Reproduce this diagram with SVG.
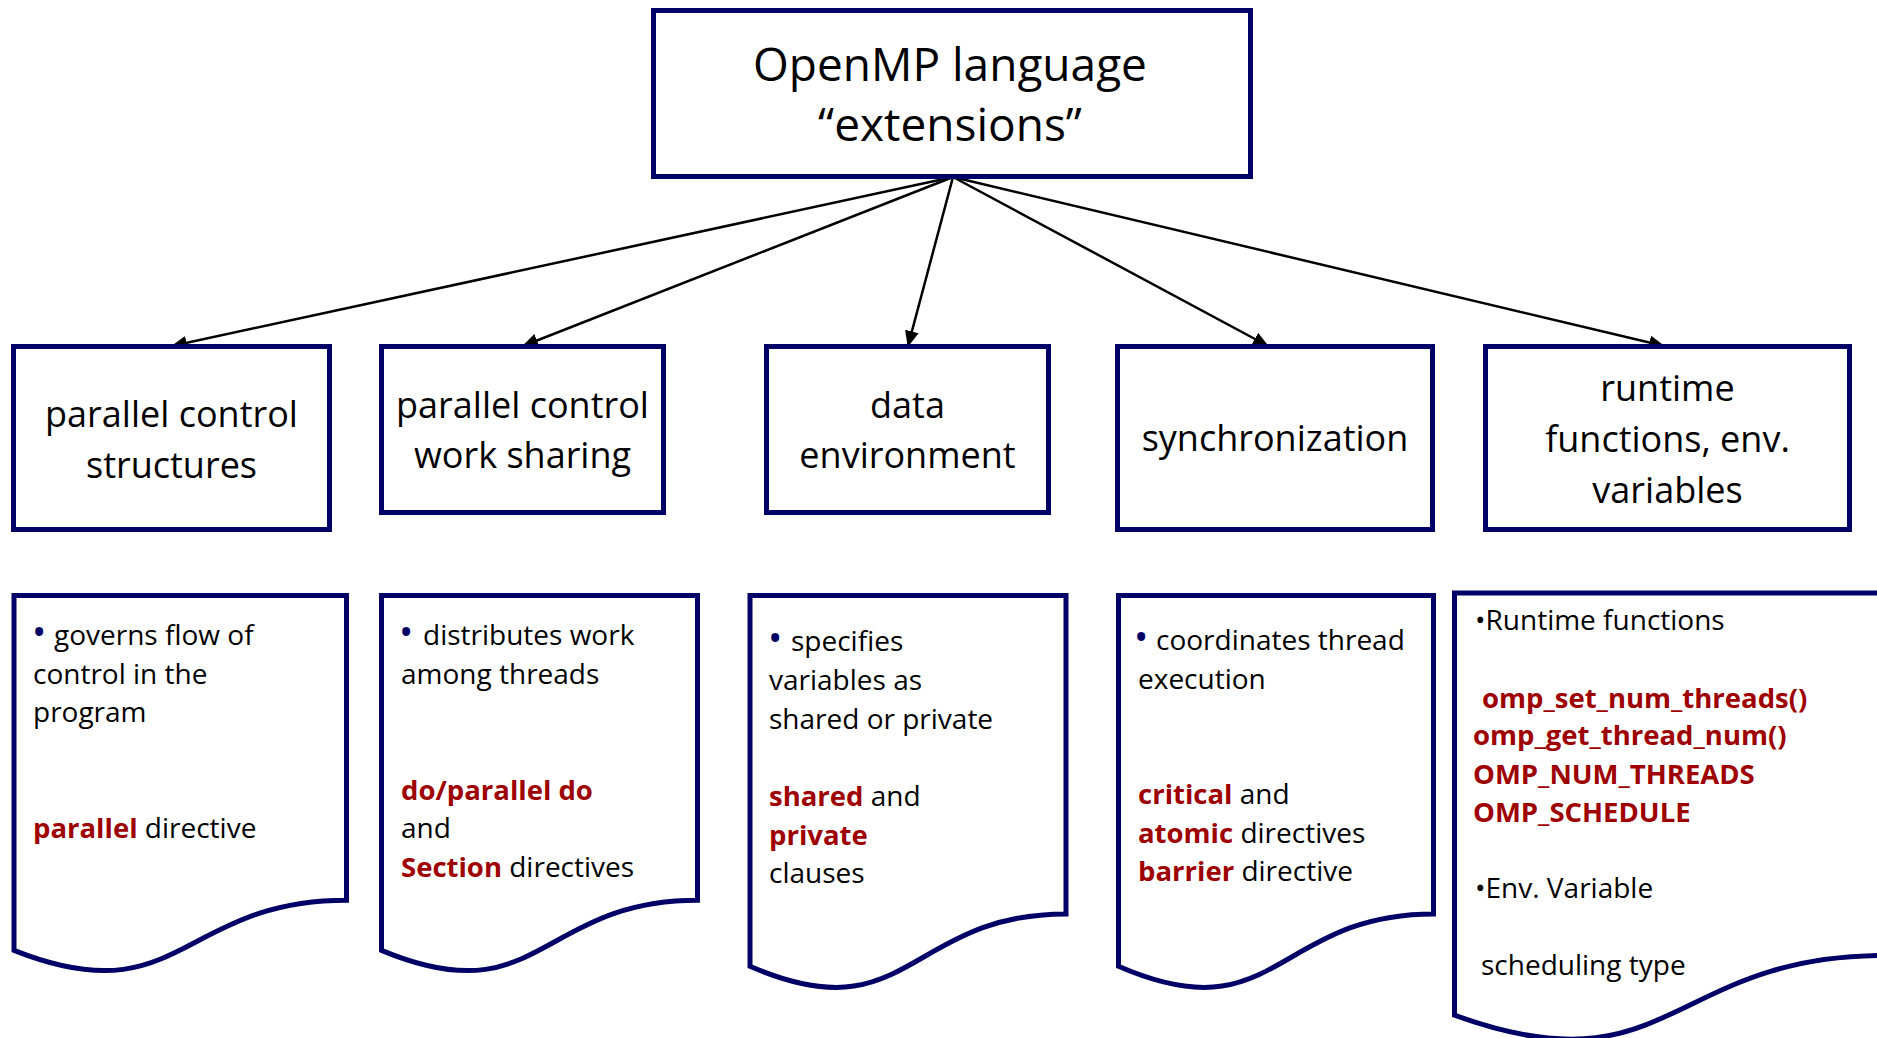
<svg xmlns="http://www.w3.org/2000/svg" width="1877" height="1038" viewBox="0 0 1877 1038">
<defs>
<style>
.box{fill:#fff;stroke:#000066;stroke-width:5}
.t{font-family:"Open Sans","Noto Sans",sans-serif;fill:#000}
.h1{font-size:46px;text-anchor:middle}
.h2{font-size:36px;text-anchor:middle}
.b{font-size:28px}
.r{fill:#9E0000;font-weight:bold;font-size:27.5px}
.bul{fill:#000066;font-size:38px}
.conn line{stroke:#000;stroke-width:2.5;marker-end:url(#arr)}
</style>
<marker id="arr" viewBox="0 0 16 14" refX="15" refY="7" markerWidth="16" markerHeight="14" markerUnits="userSpaceOnUse" orient="auto">
<path d="M0,0 L16,7 L0,14 Z" fill="#000"/>
</marker>
</defs>
<rect width="1877" height="1038" fill="#fff"/>

<g id="connectors" class="conn">
<line x1="953" y1="177" x2="172" y2="346"/>
<line x1="953" y1="177" x2="523" y2="346"/>
<line x1="953" y1="177" x2="908" y2="346"/>
<line x1="953" y1="177" x2="1268" y2="346"/>
<line x1="953" y1="177" x2="1664" y2="346"/>
</g>

<g id="root">
<rect class="box" x="653.5" y="10.5" width="597" height="166"/>
<text class="t h1" x="950" y="81">OpenMP language</text>
<text class="t h1" x="950" y="141">“extensions”</text>
</g>

<g id="n-structures">
<rect class="box" x="13.5" y="346.5" width="316" height="183"/>
<text class="t h2" x="171.5" y="427">parallel control</text>
<text class="t h2" x="171.5" y="478">structures</text>
</g>
<g id="n-worksharing">
<rect class="box" x="381.5" y="346.5" width="282" height="166"/>
<text class="t h2" x="522.5" y="418">parallel control</text>
<text class="t h2" x="522.5" y="468">work sharing</text>
</g>
<g id="n-data">
<rect class="box" x="766.5" y="346.5" width="282" height="166"/>
<text class="t h2" x="907.5" y="418">data</text>
<text class="t h2" x="907.5" y="468">environment</text>
</g>
<g id="n-sync">
<rect class="box" x="1117.5" y="346.5" width="315" height="183"/>
<text class="t h2" x="1275" y="451">synchronization</text>
</g>
<g id="n-runtime">
<rect class="box" x="1485.5" y="346.5" width="364" height="183"/>
<text class="t h2" x="1667.5" y="401">runtime</text>
<text class="t h2" x="1667.5" y="452">functions, env.</text>
<text class="t h2" x="1667.5" y="503">variables</text>
</g>

<g id="d-structures">
<path class="box" d="M14,595.5 H346.5 V900.3 C180.25,900.3 180.25,1016.4 14,950.4 Z"/>
<text class="t b"><tspan class="bul" x="32" y="646">•</tspan><tspan x="54" y="645">governs flow of</tspan></text>
<text class="t b" x="33" y="683.6">control in the</text>
<text class="t b" x="33" y="722.2">program</text>
<text class="t b" x="33" y="838"><tspan class="r">parallel</tspan> directive</text>
</g>
<g id="d-worksharing">
<path class="box" d="M381.5,595.5 H697.5 V900.3 C539.5,900.3 539.5,1016.4 381.5,950.4 Z"/>
<text class="t b"><tspan class="bul" x="399" y="646">•</tspan><tspan x="423" y="645">distributes work</tspan></text>
<text class="t b" x="401" y="683.6">among threads</text>
<text class="t b r" x="401" y="800">do/parallel do</text>
<text class="t b" x="401" y="838">and</text>
<text class="t b" x="401" y="876.6"><tspan class="r">Section</tspan> directives</text>
</g>
<g id="d-data">
<path class="box" d="M750,595.5 H1066 V913.9 C908,913.9 908,1035.2 750,966.3 Z"/>
<text class="t b"><tspan class="bul" x="768" y="652">•</tspan><tspan x="791" y="651">specifies</tspan></text>
<text class="t b" x="769" y="690">variables as</text>
<text class="t b" x="769" y="729">shared or private</text>
<text class="t b" x="769" y="806"><tspan class="r">shared</tspan> and</text>
<text class="t b r" x="769" y="844.5">private</text>
<text class="t b" x="769" y="883">clauses</text>
</g>
<g id="d-sync">
<path class="box" d="M1118.5,595.5 H1433.5 V913.9 C1276,913.9 1276,1035.2 1118.5,966.3 Z"/>
<text class="t b"><tspan class="bul" x="1134" y="651">•</tspan><tspan x="1156" y="650">coordinates thread</tspan></text>
<text class="t b" x="1138" y="688.5">execution</text>
<text class="t b" x="1138" y="804"><tspan class="r">critical</tspan> and</text>
<text class="t b" x="1138" y="842.5"><tspan class="r">atomic</tspan> directives</text>
<text class="t b" x="1138" y="881"><tspan class="r">barrier</tspan> directive</text>
</g>
<g id="d-runtime">
<path class="box" d="M1454.5,593 H1884.5 V955.5 C1669.5,955.5 1669.5,1093.6 1454.5,1015.2 Z"/>
<text class="t b" x="1475" y="630">•Runtime functions</text>
<text class="t b r" x="1482" y="708">omp_set_num_threads()</text>
<text class="t b r" x="1473" y="745">omp_get_thread_num()</text>
<text class="t b r" x="1473" y="784">OMP_NUM_THREADS</text>
<text class="t b r" x="1473" y="822">OMP_SCHEDULE</text>
<text class="t b" x="1475" y="898">•Env. Variable</text>
<text class="t b" x="1481" y="975">scheduling type</text>
</g>
</svg>
